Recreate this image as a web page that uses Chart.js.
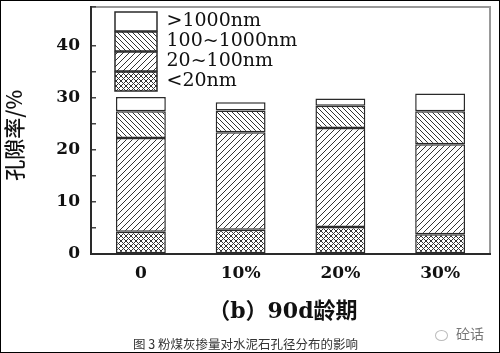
<!DOCTYPE html>
<html>
<head>
<meta charset="utf-8">
<script src="https://cdn.jsdelivr.net/npm/chart.js@4/dist/chart.umd.min.js"></script>
<style>
    html, body { margin: 0; padding: 0; background: #fff; }
    #wrap { position: relative; width: 498px; height: 351px; border: 1px solid #000; }
    #caption {
        position: absolute; left: 132px; top: 333px;
        font: 12.5px "Noto Sans CJK SC", sans-serif; color: #333; white-space: nowrap;
    }
    #mark {
        position: absolute; left: 434px; top: 322px;
        font: 14px "Noto Sans CJK SC", sans-serif; color: #777; white-space: nowrap;
    }
    #mark .dot {
        display: inline-block; width: 11px; height: 9px; border: 1.5px solid #bbb;
        border-radius: 50%; margin-right: 8px; vertical-align: middle;
    }
</style>
</head>
<body>
<div id="wrap">
    <canvas id="chart" width="498" height="351"></canvas>
    <div id="caption">图 3 粉煤灰掺量对水泥石孔径分布的影响</div>
    <div id="mark"><span class="dot"></span>砼话</div>
</div>
<script>
const categories = ["0", "10%", "20%", "30%"];
const seriesNames = ["<20nm", "20~100nm", "100~1000nm", ">1000nm"];
const below20 = [4.3, 4.65, 5.2, 3.8];
const from20to100 = [18.0, 18.75, 19.05, 17.3];
const from100to1000 = [5.15, 4.2, 4.25, 6.35];
const above1000 = [2.75, 1.6, 1.4, 3.4];
const yMin = 0;
const yMax = 47.5;
const yStep = 5;

// hatch tiles for the bar fills
function hatch(kind, size) {
    const c = document.createElement("canvas");
    c.width = size;
    c.height = size;
    const g = c.getContext("2d");
    g.fillStyle = "#fff";
    g.fillRect(0, 0, size, size);
    g.strokeStyle = "#333";
    g.lineWidth = 1;
    const slash = () => {
        g.beginPath();
        g.moveTo(-1, size + 1); g.lineTo(size + 1, -1);
        g.moveTo(-1, 1); g.lineTo(1, -1);
        g.moveTo(size - 1, size + 1); g.lineTo(size + 1, size - 1);
        g.stroke();
    };
    const back = () => {
        g.beginPath();
        g.moveTo(-1, -1); g.lineTo(size + 1, size + 1);
        g.moveTo(size - 1, -1); g.lineTo(size + 1, 1);
        g.moveTo(-1, size - 1); g.lineTo(1, size + 1);
        g.stroke();
    };
    if (kind === "slash") slash();
    if (kind === "back") back();
    if (kind === "cross") { slash(); back(); }
    return g.createPattern(c, "repeat");
}

const framePlugin = {
    id: "frame",
    beforeDraw(chart) {
        const { ctx, chartArea: a } = chart;
        ctx.save();
        ctx.strokeStyle = "#999";
        ctx.lineWidth = 2;
        ctx.strokeRect(a.left, a.top, a.right - a.left, a.bottom - a.top);
        ctx.restore();
    },
    afterLayout(chart) {
        const lg = chart.legend;
        const a = chart.chartArea;
        lg.left = a.left + 23;
        lg.right = lg.left + lg.width;
        lg.top = a.top + 4;
        lg.bottom = a.bottom;
    }
};

const serif = "'DejaVu Serif', 'Liberation Serif', serif";
const border = "#2a2a2a";

function dataset(label, data, fill) {
    return {
        label,
        data,
        backgroundColor: fill,
        borderColor: border,
        borderWidth: 1.5,
        borderSkipped: false
    };
}

new Chart(document.getElementById("chart"), {
    type: "bar",
    data: {
        labels: categories,
        datasets: [
            dataset(seriesNames[0], below20, hatch("cross", 5)),
            dataset(seriesNames[1], from20to100, hatch("slash", 6)),
            dataset(seriesNames[2], from100to1000, hatch("back", 5)),
            dataset(seriesNames[3], above1000, "#fff")
        ]
    },
    options: {
        responsive: false,
        animation: false,
        categoryPercentage: 1,
        barPercentage: 0.5,
        layout: { padding: { top: 6, right: 9, bottom: 23, left: 0 } },
        plugins: {
            legend: {
                position: "chartArea",
                align: "start",
                reverse: true,
                labels: {
                    boxWidth: 42,
                    boxHeight: 19,
                    padding: 1,
                    color: "#111",
                    font: { family: serif, size: 19 }
                }
            },
            tooltip: { enabled: false }
        },
        scales: {
            x: {
                stacked: true,
                grid: { display: false, drawTicks: false },
                border: { color: border, width: 2 },
                ticks: { color: "#111", padding: 9, font: { family: serif, size: 17, weight: "bold" } },
                title: {
                    display: true,
                    text: "（b）90d龄期  ",
                    color: "#111",
                    font: { family: serif + ", 'Noto Sans CJK SC'", size: 22, weight: "bold" }
                },
                afterFit(scale) {
                    scale.height = 75;
                    scale.paddingLeft = 0;
                    scale.paddingRight = 0;
                }
            },
            y: {
                stacked: true,
                min: yMin,
                max: yMax,
                grid: { drawOnChartArea: false, tickLength: -5, color: "#444", lineWidth: 1.5 },
                border: { color: border, width: 2 },
                ticks: {
                    stepSize: yStep,
                    padding: 16,
                    color: "#111",
                    font: { family: serif, size: 17, weight: "bold" },
                    callback: (v) => (v % 10 === 0 ? v : "")
                },
                title: {
                    display: true,
                    text: "孔隙率/%  ",
                    color: "#111",
                    padding: { top: 0, bottom: 0 },
                    font: { family: "'Noto Sans CJK SC', sans-serif", size: 21, weight: "500" }
                },
                afterFit(scale) {
                    scale.width = 90;
                    scale.paddingTop = 0;
                    scale.paddingBottom = 0;
                }
            }
        }
    },
    plugins: [framePlugin]
});
</script>
</body>
</html>
